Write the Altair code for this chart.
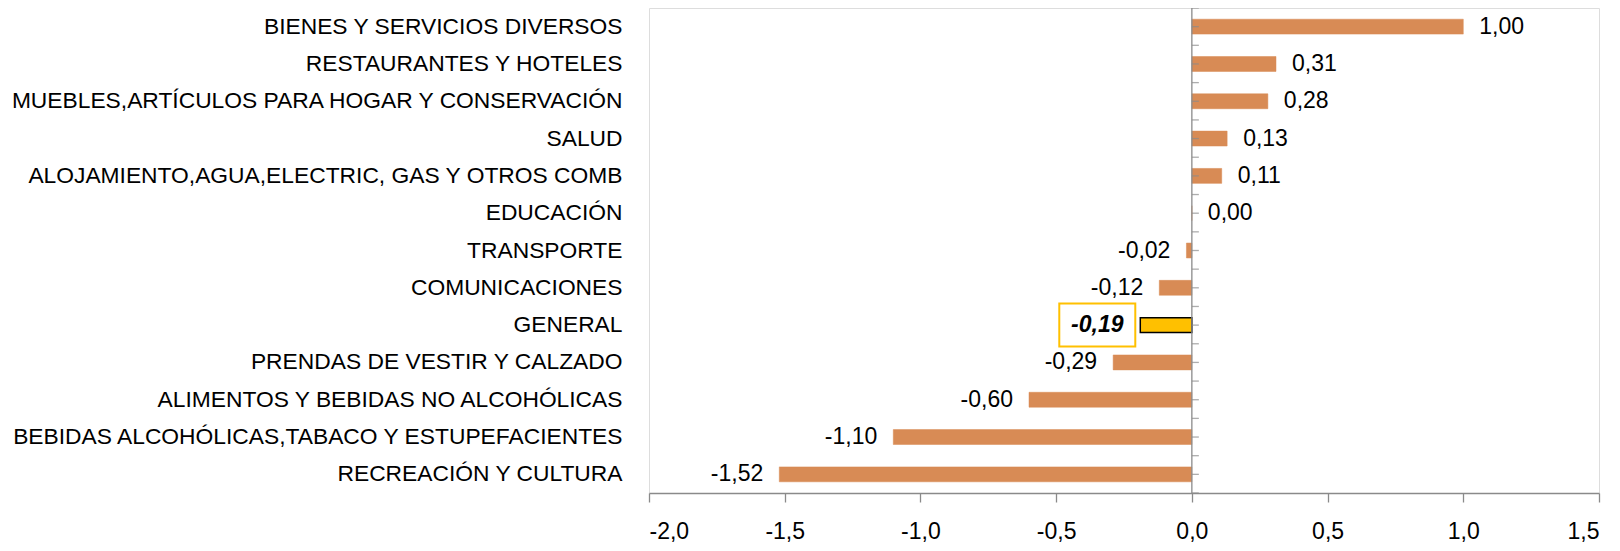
import altair as alt
import pandas as pd

categories = [
    "BIENES Y SERVICIOS DIVERSOS",
    "RESTAURANTES Y HOTELES",
    "MUEBLES,ARTÍCULOS PARA HOGAR Y CONSERVACIÓN",
    "SALUD",
    "ALOJAMIENTO,AGUA,ELECTRIC, GAS Y OTROS COMB",
    "EDUCACIÓN",
    "TRANSPORTE",
    "COMUNICACIONES",
    "GENERAL",
    "PRENDAS DE VESTIR Y CALZADO",
    "ALIMENTOS Y BEBIDAS NO ALCOHÓLICAS",
    "BEBIDAS ALCOHÓLICAS,TABACO Y ESTUPEFACIENTES",
    "RECREACIÓN Y CULTURA",
]
values = [1.00, 0.31, 0.28, 0.13, 0.11, 0.00, -0.02, -0.12, -0.19, -0.29, -0.60, -1.10, -1.52]
x_ticks = [-2.0, -1.5, -1.0, -0.5, 0.0, 0.5, 1.0, 1.5]
highlight = "GENERAL"

# tick marks on the vertical category axis (band edges and centres)
axis_marks = [i / 2 for i in range(2 * len(categories) + 1)]

df = pd.DataFrame({"category": categories, "value": values})
ticks_df = pd.DataFrame({"pos": axis_marks})

FONT = "Liberation Sans"
ORANGE = "#D88B55"
YELLOW = "#FFC000"
AXIS_GRAY = "#8A8A8A"

W, H = 950, 485

xscale = alt.Scale(domain=[-2.0, 1.5], nice=False, zero=False)
yscale = alt.Scale(domain=categories, paddingInner=0.6, paddingOuter=0.3)

x_enc = alt.X(
    "value:Q",
    scale=xscale,
    axis=alt.Axis(
        values=x_ticks,
        labelExpr="replace(replace(format(datum.value, '.1f'), '.', ','), '\u2212', '-')",
        grid=False,
        domainColor=AXIS_GRAY,
        domainWidth=1.3,
        tickColor=AXIS_GRAY,
        tickWidth=1.3,
        tickSize=9,
        labelFont=FONT,
        labelFontSize=23,
        labelColor="black",
        labelPadding=18,
        title=None,
    ),
)
y_enc = alt.Y(
    "category:N",
    sort=categories,
    scale=yscale,
    axis=alt.Axis(
        domain=False,
        ticks=False,
        grid=False,
        labelFont=FONT,
        labelFontSize=22.8,
        labelColor="black",
        labelPadding=27,
        labelLimit=0,
        title=None,
    ),
)

base = alt.Chart(df)

bars = base.mark_bar().encode(
    x=x_enc,
    y=y_enc,
    fill=alt.condition(alt.datum.category == highlight, alt.value(YELLOW), alt.value(ORANGE)),
    stroke=alt.condition(alt.datum.category == highlight, alt.value("black"), alt.value(ORANGE)),
    strokeWidth=alt.condition(alt.datum.category == highlight, alt.value(1.5), alt.value(0.5)),
)

label_expr = "replace(replace(format(datum.value, '.2f'), '.', ','), '\u2212', '-')"

pos_labels = base.transform_filter(
    (alt.datum.value >= 0) & (alt.datum.category != highlight)
).transform_calculate(lbl=label_expr).mark_text(
    align="left", baseline="middle", dx=16, font=FONT, fontSize=23, color="black"
).encode(x="value:Q", y=alt.Y("category:N", sort=categories), text="lbl:N")

neg_labels = base.transform_filter(
    (alt.datum.value < 0) & (alt.datum.category != highlight)
).transform_calculate(lbl=label_expr).mark_text(
    align="right", baseline="middle", dx=-16, font=FONT, fontSize=23, color="black"
).encode(x="value:Q", y=alt.Y("category:N", sort=categories), text="lbl:N")

hl_box = base.transform_filter(alt.datum.category == highlight).mark_point(
    shape="M-1,-0.566H1V0.566H-1Z",
    size=5776,
    filled=False,
    stroke=YELLOW,
    strokeWidth=2,
    opacity=1,
    xOffset=-43,
).encode(x="value:Q", y=alt.Y("category:N", sort=categories))

hl_label = base.transform_filter(alt.datum.category == highlight).transform_calculate(
    lbl=label_expr
).mark_text(
    align="center", baseline="middle", dx=-43, font=FONT, fontSize=23,
    fontWeight="bold", fontStyle="italic", color="black"
).encode(x="value:Q", y=alt.Y("category:N", sort=categories), text="lbl:N")

zero_line = alt.Chart(pd.DataFrame({"z": [0.0]})).mark_rule(
    color=AXIS_GRAY, strokeWidth=1.3
).encode(x="z:Q")

cat_ticks = alt.Chart(ticks_df).mark_tick(
    orient="horizontal", size=7, thickness=1.3, color=AXIS_GRAY, xOffset=3.5
).encode(
    x=alt.datum(0.0),
    y=alt.Y("pos:Q", scale=alt.Scale(domain=[0, len(categories)], nice=False, zero=False), axis=None),
)

main = alt.layer(bars, pos_labels, neg_labels, hl_box, hl_label, zero_line)

chart = alt.layer(main, cat_ticks).resolve_scale(y="independent").properties(
    width=W,
    height=H,
    autosize=alt.AutoSizeParams(type="none"),
    padding={"left": 641, "top": 0, "right": 13, "bottom": 50},
).configure_view(stroke=None).configure(background="white")

chart.save("out.html", embed_options={"renderer": "svg", "actions": False})
